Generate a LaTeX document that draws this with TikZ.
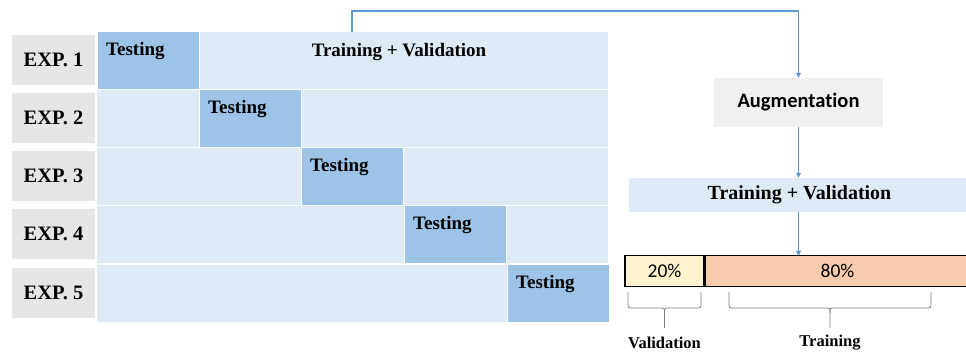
\documentclass[tikz,border=0pt]{standalone}
\usepackage{fontspec}
\setmainfont{Liberation Serif}
\newfontfamily\calib[Ligatures=NoCommon]{Carlito}
\usetikzlibrary{arrows.meta}

\definecolor{trainblue}{HTML}{DEEBF7}
\definecolor{testblue}{HTML}{9DC3E6}
\definecolor{labelgray}{HTML}{E7E6E6}
\definecolor{auggray}{HTML}{F0F0F0}
\definecolor{flowblue}{HTML}{5B9BD5}
\definecolor{valyellow}{HTML}{FFF2CC}
\definecolor{trainorange}{HTML}{F8CBAD}
\definecolor{bracegray}{HTML}{808080}

\tikzset{
  cell/.style={rectangle, inner sep=0pt, anchor=north west},
  rowbg/.style={cell, fill=trainblue, minimum width=511pt, minimum height=57pt},
  testcell/.style={cell, fill=testblue, draw=white, line width=0.8pt,
                   minimum width=102pt, minimum height=58pt},
  expbox/.style={rectangle, fill=labelgray, inner sep=0pt,
                 minimum width=83pt, minimum height=50pt,
                 font=\fontsize{20.5}{23}\selectfont\bfseries},
  celltext/.style={inner sep=0pt, anchor=north west,
                   font=\fontsize{19}{22}\selectfont\bfseries},
  flow/.style={draw=flowblue, line width=1.1pt,
               -{Triangle[length=5pt,width=5pt]}},
  barpart/.style={rectangle, draw=black, line width=1.5pt, inner sep=0pt,
                  minimum height=31pt, font=\calib\fontsize{19.5}{22}\selectfont},
  bracestyle/.style={draw=bracegray, line width=0.8pt},
  bracelabel/.style={inner sep=0pt, font=\fontsize{16.5}{19}\selectfont\bfseries}
}

\newcommand{\splitbrace}[3]{% left x, right x, top y
  \pgfmathsetmacro{\bmid}{(#1+#2)/2}
  \draw[bracestyle] (#1,#3) -- (#1,#3+11) .. controls (#1,#3+16) .. (#1+5,#3+16)
        -- (\bmid-5,#3+16) .. controls (\bmid,#3+16) .. (\bmid,#3+21) -- (\bmid,#3+36);
  \draw[bracestyle] (#2,#3) -- (#2,#3+11) .. controls (#2,#3+16) .. (#2-5,#3+16)
        -- (\bmid+5,#3+16) .. controls (\bmid,#3+16) .. (\bmid,#3+21);
}

\begin{document}
\begin{tikzpicture}[x=1pt,y=-1pt]
\useasboundingbox (0,0) rectangle (966,352);

% experiment rows: light background, then the held-out testing fold
\foreach \i/\top/\tx in {1/32/97, 2/90/199, 3/148/301, 4/206/404, 5/265/507}{
  \node[rowbg] (row\i) at (97,\top) {};
  \node[testcell] (test\i) at (\tx,\top-0.5) {};
  \node[celltext] (testlbl\i) at ([shift={(9pt,-11pt)}]test\i.north west) {Testing};
  \node[expbox] (exp\i) at (53.5,\top+28) {EXP. \i};
}
\node[celltext, anchor=north] (tvrow) at (399,43) {Training + Validation};

% pipeline on the right
\node[rectangle, fill=auggray, inner sep=0pt, minimum width=169pt, minimum height=49pt,
      font=\calib\fontsize{20.5}{23}\selectfont\bfseries] (aug) at (798.5,102.5) {Augmentation};
\node[rectangle, fill=trainblue, inner sep=0pt, minimum width=341pt, minimum height=34pt,
      font=\fontsize{20}{23}\selectfont\bfseries] (tv) at (799.5,195) {Training + Validation};

\node[barpart, fill=valyellow, minimum width=79pt] (val) at (664.5,271) {20\%};
\node[barpart, fill=trainorange, minimum width=264pt, anchor=west] (train) at (val.east) {80\%};

\coordinate (src) at (352,32);
\coordinate (tvout) at (aug.south |- tv.south);
\coordinate (barin) at ([yshift=-1pt]aug.south |- val.north);
\draw[flow] (src) -- (352,11) -| (aug.north);
\draw[flow] (aug.south) -- (aug.south |- tv.north);
\draw[flow] (tvout) -- (barin);

% braces under the split bar
\splitbrace{628}{701}{292}
\splitbrace{729}{931}{292}
\node[bracelabel] (vallbl) at (664.5,343) {Validation};
\node[bracelabel] (trainlbl) at (830,343) {Training};
\end{tikzpicture}
\end{document}
